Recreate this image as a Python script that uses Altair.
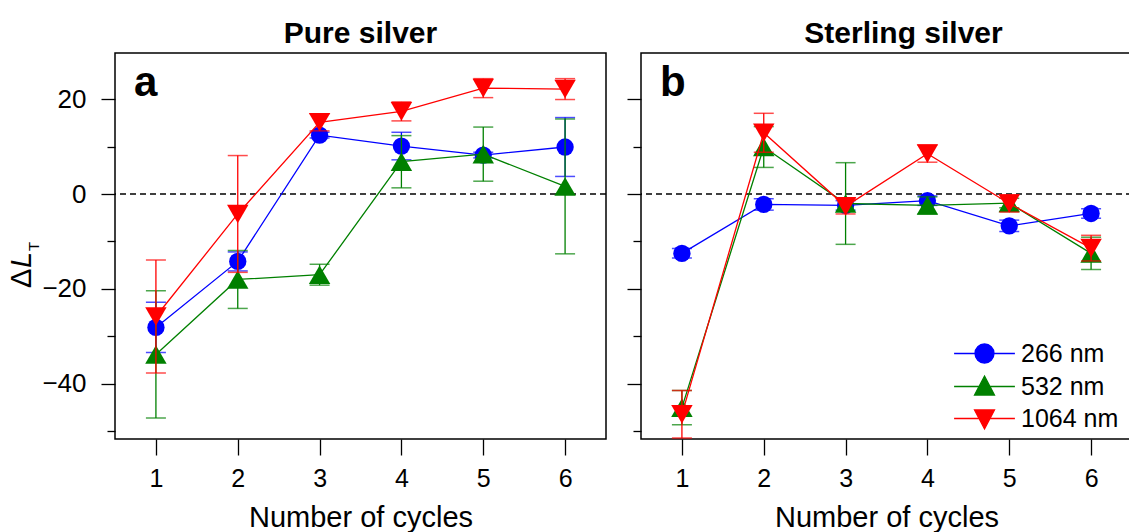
import altair as alt
import pandas as pd

# ---------------- data ----------------
cycles = [1, 2, 3, 4, 5, 6]
wavelengths = ["266 nm", "532 nm", "1064 nm"]

pure_266 = [-28.1, -14.2, 12.4, 10.1, 8.2, 9.9]
pure_266_err = [5.3, 2.0, 0.6, 2.9, 0.6, 6.2]
pure_532 = [-33.8, -18.0, -17.0, 6.8, 8.4, 1.6]
pure_532_err = [13.4, 6.1, 2.2, 5.5, 5.7, 14.2]
pure_1064 = [-25.8, -4.2, 15.1, 17.4, 22.3, 22.1]
pure_1064_err = [11.9, 12.3, 1.8, 2.0, 2.0, 2.2]

sterling_266 = [-12.5, -2.2, -2.4, -1.4, -6.7, -4.1]
sterling_266_err = [1.0, 1.2, 1.0, 1.0, 1.2, 1.0]
sterling_532 = [-45.0, 9.9, -2.0, -2.4, -1.9, -12.5]
sterling_532_err = [3.6, 4.3, 8.6, 1.8, 1.0, 3.4]
sterling_1064 = [-46.4, 12.9, -2.6, 8.5, -2.0, -11.4]
sterling_1064_err = [5.0, 4.1, 1.6, 1.8, 1.8, 2.7]

y_major = [-40, -20, 0, 20]
y_minor = [-50, -30, -10, 10]

# ---------------- style ----------------
FONT = "Liberation Sans"
colors = ["#0000ff", "#008000", "#ff0000"]
shapes = ["circle", "triangle-up", "triangle-down"]
sizes = [300, 460, 460]
legend_paths = [
    "M-3.2,0H3.2M1,0A1,1 0 1,1 -1,0A1,1 0 1,1 1,0Z",
    "M-3.2,0H3.2M0,-1.1L1.05,0.9H-1.05Z",
    "M-3.2,0H3.2M0,1.1L1.05,-0.9H-1.05Z",
]

PW, PH = 491, 386
xs = alt.Scale(domain=[0.5, 6.5], nice=False, zero=False)
ys = alt.Scale(domain=[-51.6, 29.7], nice=False, zero=False)


def series_df(vals, errs):
    return pd.DataFrame({
        "cycle": cycles,
        "value": vals,
        "lo": [v - e for v, e in zip(vals, errs)],
        "hi": [v + e for v, e in zip(vals, errs)],
    })


def x_axis():
    return alt.Axis(values=cycles, title="Number of cycles", tickSize=16,
                    labelPadding=11, titlePadding=12, domain=False, grid=False,
                    labelFontSize=25, titleFontSize=29, titleFontWeight="normal",
                    labelFont=FONT, titleFont=FONT, tickColor="black",
                    labelColor="black", titleColor="black", tickWidth=1.3,
                    labelFlush=False, orient="bottom")


def panel(series, title, letter, show_labels, with_legend, title_dx, width):
    layers = []
    zero = alt.Chart(pd.DataFrame({"z": [0]})).mark_rule(
        color="black", strokeDash=[6, 4], strokeWidth=1.3
    ).encode(y=alt.Y("z:Q", scale=ys, axis=None))
    layers.append(zero)

    for i, (vals, errs) in enumerate(series):
        df = series_df(vals, errs)
        c = colors[i]
        base = alt.Chart(df)
        xenc = alt.X("cycle:Q", scale=xs, axis=None)
        bars = base.mark_rule(color=c, strokeWidth=1.3).encode(
            x=xenc, y=alt.Y("lo:Q", scale=ys, axis=None), y2="hi:Q")
        caps = base.transform_fold(["lo", "hi"], as_=["k", "v"]).mark_tick(
            color=c, orient="horizontal", size=20, thickness=1.5
        ).encode(x=xenc, y=alt.Y("v:Q", scale=ys, axis=None))
        if i == 0:
            line_x = alt.X("cycle:Q", scale=xs, axis=x_axis())
            line_y = alt.Y("value:Q", scale=ys, axis=alt.Axis(
                values=y_major, orient="left", title=None, tickSize=14,
                labels=show_labels, labelPadding=15, domain=False, grid=False,
                labelFontSize=26, labelFont=FONT, labelColor="black",
                tickColor="black", tickWidth=1.3))
            pt_y = alt.Y("value:Q", scale=ys, axis=alt.Axis(
                values=y_minor, orient="left", title=None, tickSize=8,
                labels=False, domain=False, grid=False, tickColor="black",
                tickWidth=1.3))
        else:
            line_x = xenc
            line_y = alt.Y("value:Q", scale=ys, axis=None)
            pt_y = alt.Y("value:Q", scale=ys, axis=None)
        line = base.mark_line(color=c, strokeWidth=1.3).encode(x=line_x, y=line_y)
        pts = base.mark_point(filled=True, shape=shapes[i], size=sizes[i],
                              color=c, opacity=1).encode(x=xenc, y=pt_y)
        layers += [bars, caps, line, pts]

    lab = alt.Chart(pd.DataFrame({"t": [letter]})).mark_text(
        align="left", baseline="alphabetic", fontSize=42, fontWeight="bold",
        font=FONT, color="black"
    ).encode(x=alt.value(19), y=alt.value(43), text="t:N")
    layers.append(lab)

    if show_labels:
        parts = [("Δ", 29, "normal", -84, 235),
                 ("L", 29, "italic", -84, 215),
                 ("T", 15, "normal", -76, 198)]
        for txt, fs, style, px, py in parts:
            layers.append(alt.Chart(pd.DataFrame({"t": [txt]})).mark_text(
                align="left", baseline="alphabetic", angle=270, fontSize=fs,
                fontStyle=style, font=FONT, color="black"
            ).encode(x=alt.value(px), y=alt.value(py), text="t:N"))

    if with_legend:
        ldf = pd.DataFrame({"wl": wavelengths})
        leg = alt.Chart(ldf).transform_filter("false").mark_point(
            filled=True, opacity=1, strokeWidth=1.3
        ).encode(
            color=alt.Color("wl:N", scale=alt.Scale(domain=wavelengths, range=colors),
                            legend=alt.Legend(
                                title=None, orient="none", legendX=857, legendY=288,
                                labelFontSize=25, labelFont=FONT, labelColor="black",
                                symbolSize=361, symbolStrokeWidth=1.3, labelOffset=24,
                                rowPadding=6, padding=0, symbolOpacity=1)),
            stroke=alt.Stroke("wl:N", scale=alt.Scale(domain=wavelengths, range=colors)),
            shape=alt.Shape("wl:N", scale=alt.Scale(domain=wavelengths, range=legend_paths)),
        )
        layers.append(leg)

    return alt.layer(*layers).resolve_axis(x="independent", y="independent").properties(
        width=width, height=PH,
        title=alt.TitleParams(title, fontSize=30, fontWeight="bold", font=FONT,
                              offset=4, dx=title_dx, anchor="middle", color="black"),
    )


pa = panel([(pure_266, pure_266_err), (pure_532, pure_532_err), (pure_1064, pure_1064_err)],
           "Pure silver", "a", True, False, 0, PW)
pb = panel([(sterling_266, sterling_266_err), (sterling_532, sterling_532_err),
            (sterling_1064, sterling_1064_err)],
           "Sterling silver", "b", False, True, 17, PW)

chart = alt.hconcat(pa, pb, spacing=17).configure_view(
    stroke="black", strokeWidth=1.5
).properties(padding={"left": 7, "top": 18, "right": -5, "bottom": 0},
             background="white")

chart.save("out.html", embed_options={"renderer": "svg", "actions": False})
